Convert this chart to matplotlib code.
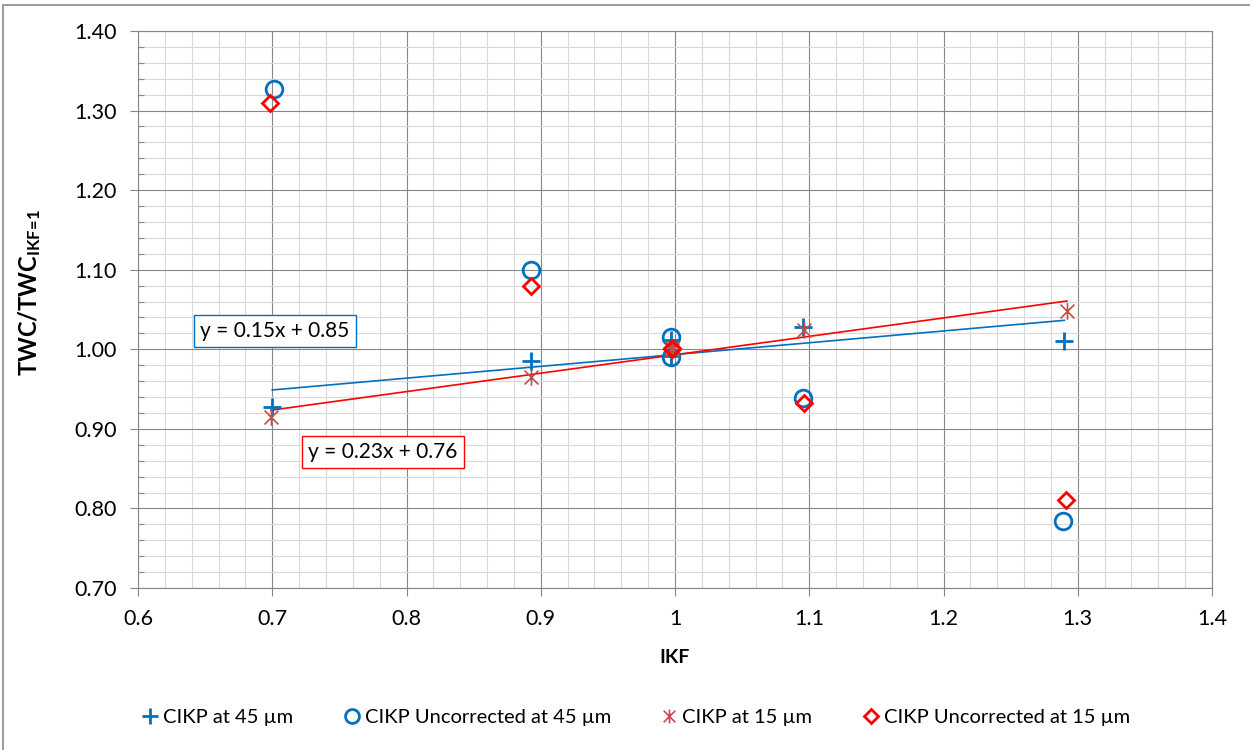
import numpy as np
import matplotlib
matplotlib.use('Agg')
import matplotlib.pyplot as plt
from matplotlib.path import Path
from matplotlib.ticker import MultipleLocator, FuncFormatter
from matplotlib.lines import Line2D

plt.rcParams['font.family'] = ['Lato', 'DejaVu Sans']
plt.rcParams['mathtext.fontset'] = 'custom'
plt.rcParams['mathtext.rm'] = 'Lato'
plt.rcParams['mathtext.bf'] = 'Lato:bold'

# data
ikf_45 = [0.700, 0.893, 0.997, 0.997, 1.095, 1.290]
cikp_45 = [0.928, 0.985, 1.012, 0.992, 1.028, 1.011]
ikf_unc45 = [0.701, 0.893, 0.997, 0.997, 1.095, 1.289]
unc_45 = [1.327, 1.100, 1.015, 0.990, 0.939, 0.784]
ikf_15 = [0.699, 0.893, 0.998, 0.998, 1.096, 1.292]
cikp_15 = [0.915, 0.965, 1.002, 0.999, 1.024, 1.048]
ikf_unc15 = [0.698, 0.893, 0.998, 0.998, 1.096, 1.291]
unc_15 = [1.309, 1.079, 1.002, 1.000, 0.933, 0.811]

labels = ['CIKP at 45 µm', 'CIKP Uncorrected at 45 µm',
          'CIKP at 15 µm', 'CIKP Uncorrected at 15 µm']
eq_45 = 'y = 0.15x + 0.85'
eq_15 = 'y = 0.23x + 0.76'

blue = '#0070C0'
red = '#FF0000'
brick = '#C0504D'

# excel style "star": X with a vertical bar
star = Path([(-1, -1), (1, 1), (-1, 1), (1, -1), (0, -1.2), (0, 1.2)],
            [Path.MOVETO, Path.LINETO, Path.MOVETO, Path.LINETO, Path.MOVETO, Path.LINETO])

fig = plt.figure(figsize=(12.5, 7.5), dpi=100)
ax = fig.add_axes([0.1104, 0.216, 0.8592, 0.7427])

# outer chart border
fig.patches.append(plt.Rectangle((0.002, -0.01), 1.1, 1 - 0.007 + 0.01, transform=fig.transFigure,
                                 fill=False, edgecolor='#8c8c8c', lw=1.2, zorder=0))

ax.set_xlim(0.6, 1.4)
ax.set_ylim(0.70, 1.40)
ax.xaxis.set_major_locator(MultipleLocator(0.1))
ax.xaxis.set_minor_locator(MultipleLocator(0.02))
ax.yaxis.set_major_locator(MultipleLocator(0.1))
ax.yaxis.set_minor_locator(MultipleLocator(0.02))
ax.xaxis.set_major_formatter(FuncFormatter(lambda v, p: ('%g' % round(v, 2))))
ax.yaxis.set_major_formatter(FuncFormatter(lambda v, p: '%.2f' % v))

ax.grid(which='major', color='#878787', lw=0.8)
ax.grid(which='minor', color='#D9D9D9', lw=0.8)
ax.set_axisbelow(True)
for s in ax.spines.values():
    s.set_color('#878787')
    s.set_linewidth(0.8)
ax.tick_params(which='major', direction='out', length=6, width=0.8, color='#878787',
               labelsize=15.5, pad=9)
ax.tick_params(which='minor', direction='in', length=4, width=0.8, color='#878787')
ax.tick_params(axis='x', which='minor', length=0)

# markers
ax.plot(ikf_45, cikp_45, ls='none', marker='+', ms=13, mew=2, color=blue, zorder=3)
ax.plot(ikf_unc45, unc_45, ls='none', marker='o', ms=12, mew=2, mfc='none', mec=blue, zorder=3)
ax.plot(ikf_15, cikp_15, ls='none', marker=star, ms=12, mew=1.2, color=brick, zorder=3)
ax.plot(ikf_unc15, unc_15, ls='none', marker='D', ms=8, mew=2, mfc='none', mec=red, zorder=4)

# linear trendlines
for xs, ys, c in [(ikf_45, cikp_45, blue), (ikf_15, cikp_15, red)]:
    k, b = np.polyfit(xs, ys, 1)
    xx = np.array([min(xs), max(xs)])
    ax.plot(xx, k * xx + b, color=c, lw=1.2, zorder=2)

ax.text(0.1276, 0.4614, eq_45, transform=ax.transAxes, ha='center', va='center', fontsize=15,
        bbox=dict(boxstyle='square,pad=0.3', fc='white', ec=blue, lw=1), zorder=5)
ax.text(0.2281, 0.2442, eq_15, transform=ax.transAxes, ha='center', va='center', fontsize=15,
        bbox=dict(boxstyle='square,pad=0.3', fc='white', ec=red, lw=1), zorder=5)

ax.set_xlabel('IKF', fontsize=14, fontweight='bold')
ax.xaxis.set_label_coords(0.5, -0.11)
ax.set_ylabel(r'$\mathbf{TWC/TWC_{IKF\!=\!1}}$', fontsize=17)
ax.yaxis.set_label_coords(-0.088, 0.53)

handles = [
    Line2D([], [], ls='none', marker='+', ms=11, mew=2, color=blue),
    Line2D([], [], ls='none', marker='o', ms=10, mew=2, mfc='none', mec=blue),
    Line2D([], [], ls='none', marker=star, ms=10, mew=1.2, color=brick),
    Line2D([], [], ls='none', marker='D', ms=7, mew=2, mfc='none', mec=red),
]
fig.legend(handles, labels, loc='center', bbox_to_anchor=(0.508, 0.043), ncol=4, frameon=False,
           fontsize=14.5, handlelength=1.0, handletextpad=0.15, columnspacing=2.4)

fig.savefig('out.png', dpi=100)
